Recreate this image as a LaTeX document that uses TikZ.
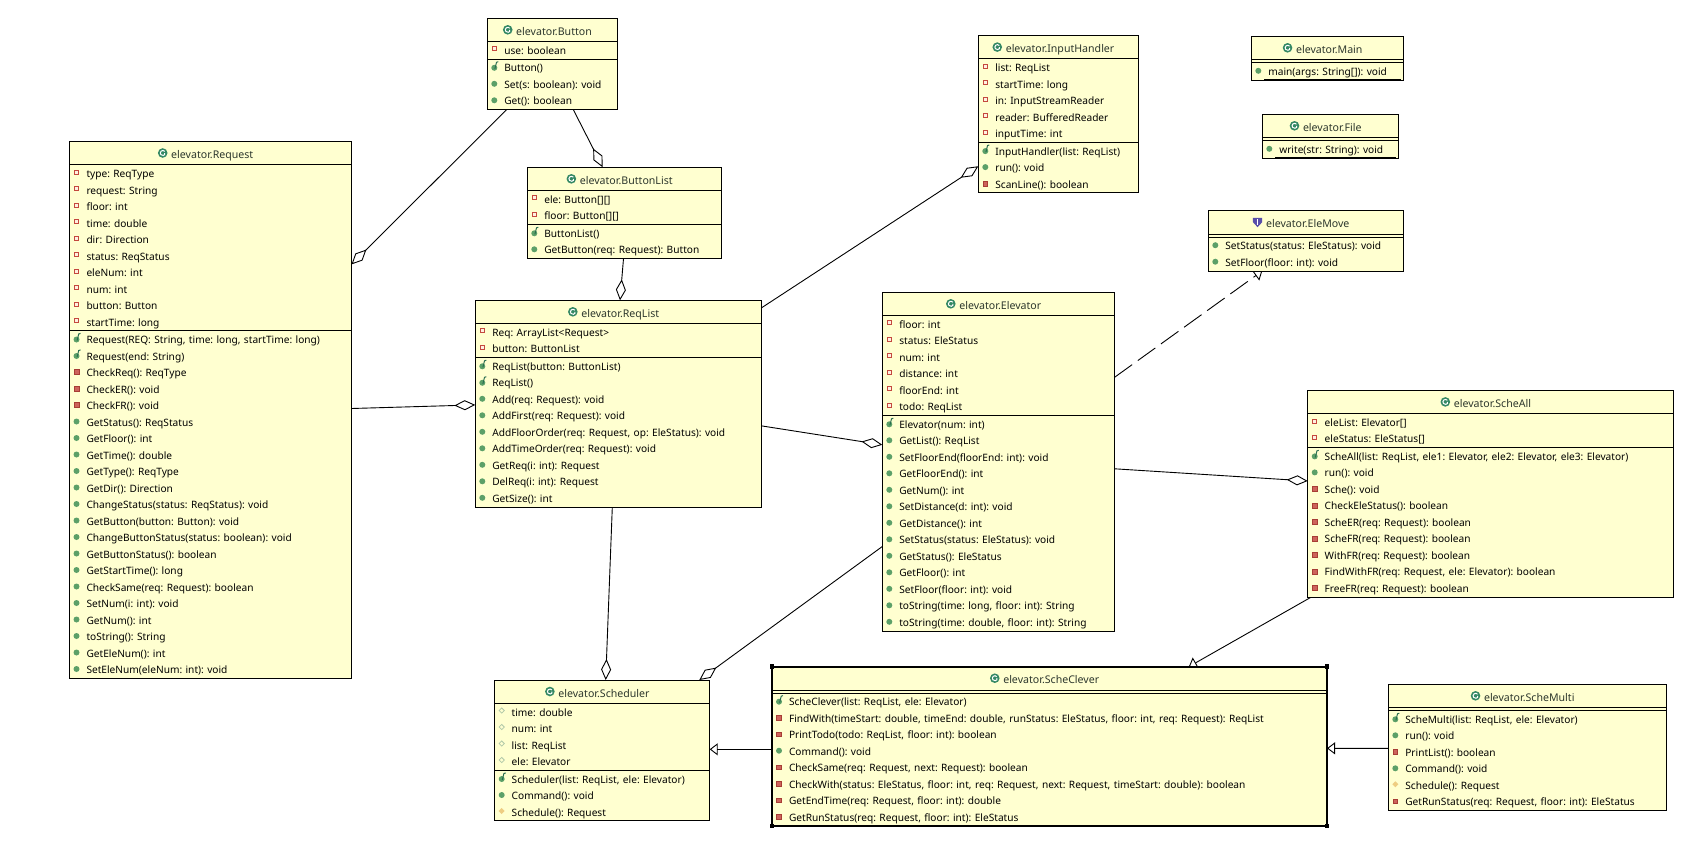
\documentclass[tikz,border=0pt]{standalone}
\usepackage{fontspec}
\setmainfont{Noto Sans}
\usepackage{xcolor}
\usetikzlibrary{arrows.meta, positioning, shapes.multipart, fit, backgrounds}
\definecolor{boxYellow}{RGB}{255, 255, 208}
\definecolor{inkGrey}{RGB}{45, 55, 45}
\definecolor{privRed}{RGB}{196, 72, 62}
\definecolor{pubGreen}{RGB}{92, 160, 104}
\definecolor{classGreen}{RGB}{52, 136, 100}
\definecolor{ifacePurple}{RGB}{88, 78, 170}
\definecolor{protGold}{RGB}{238, 205, 130}
\definecolor{pkgPale}{RGB}{176, 200, 168}

% row icons
\newsavebox\attricon \newsavebox\privicon \newsavebox\pubicon \newsavebox\ctoricon
\newsavebox\pkgicon \newsavebox\proticon \newsavebox\classicon \newsavebox\ifaceicon
\newcommand\iconbounds{\useasboundingbox (-4pt,-4pt) rectangle (4pt,4pt);}
\sbox\attricon{\tikz[baseline=-5.5pt]{\iconbounds
  \draw[privRed, fill=orange!12, line width=.8pt] (-2pt,-2pt) rectangle (2pt,2pt);}}
\sbox\privicon{\tikz[baseline=-4.5pt]{\iconbounds
  \draw[privRed!85!black, fill=privRed!85, line width=.5pt] (-2.4pt,-2.4pt) rectangle (2.4pt,2.4pt);}}
\sbox\pubicon{\tikz[baseline=-4.5pt]{\iconbounds
  \fill[pubGreen] (0,0) circle (3pt);}}
\sbox\ctoricon{\tikz[baseline=-4.5pt]{\iconbounds
  \fill[pubGreen] (0,-.5pt) circle (3pt);
  \draw[classGreen!80!black, line width=1pt] (.6pt,-1.5pt) -- (2.2pt,5pt) -- (4pt,5.6pt);}}
\sbox\pkgicon{\tikz[baseline=-5.5pt]{\iconbounds
  \draw[pkgPale, line width=.8pt] (-2.6pt,0) -- (0,2.6pt) -- (2.6pt,0) -- (0,-2.6pt) -- cycle;}}
\sbox\proticon{\tikz[baseline=-5pt]{\iconbounds
  \fill[protGold] (-3pt,0) -- (0,3pt) -- (3pt,0) -- (0,-3pt) -- cycle;}}
\sbox\classicon{\tikz[baseline=-5.6pt]{\useasboundingbox (-5pt,-5pt) rectangle (5pt,5pt);
  \fill[classGreen] (0,0) circle (4.8pt);
  \draw[white, line width=1pt] (2pt,1.6pt) arc (40:320:2.5pt) -- (2pt,0);}}
\sbox\ifaceicon{\tikz[baseline=-5.6pt]{\useasboundingbox (-5pt,-5pt) rectangle (5pt,5pt);
  \fill[ifacePurple] (-4.6pt,4.4pt) -- (4.6pt,4.4pt) -- (4.6pt,0) -- (0,-5pt) -- (-4.6pt,0) -- cycle;
  \draw[white, line width=1.3pt] (0,3pt) -- (0,-2.4pt);}}

\newcommand\rowfont{\fontsize{10.15pt}{16.5pt}\selectfont\frenchspacing}
\newcommand\rowstrut{\rule[-4.3pt]{0pt}{16.5pt}}
\newcommand\headstrut{\rule[-5.7pt]{0pt}{22.3pt}}
\newcommand\headfont{\fontsize{10.6pt}{16.5pt}\selectfont}
\newcommand\nofields{\rule{0pt}{2pt}}
\newcommand\fieldpart{\nodepart{two}}
\newcommand\methodpart{\par\vspace{-1pt}\nodepart{three}}
\newcommand\rowwith[2]{\rowstrut\mbox{\makebox[14pt][l]{\usebox#1}#2}}
\newcommand\rowAttr[1]{\rowwith\attricon{#1}}
\newcommand\rowPkg[1]{\rowwith\pkgicon{#1}}
\newcommand\rowCtor[1]{\rowwith\ctoricon{#1}}
\newcommand\rowPub[1]{\rowwith\pubicon{#1}}
\newcommand\rowPriv[1]{\rowwith\privicon{#1}}
\newcommand\rowProt[1]{\rowwith\proticon{#1}}
\newcommand\rowStatic[1]{\rowstrut\makebox[10pt][l]{\usebox\pubicon}\underline{\makebox[\dimexpr\linewidth-10pt][l]{\hspace{4pt}#1}}}
\newcommand\classhead[1]{\headstrut\makebox[\linewidth][c]{\usebox\classicon\hspace{3.5pt}{\headfont#1}\hspace{10pt}}}
\newcommand\ifacehead[1]{\headstrut\makebox[\linewidth][c]{\usebox\ifaceicon\hspace{3.5pt}{\headfont#1}\hspace{10pt}}}

\begin{document}
\begin{tikzpicture}[
    x=1pt, y=-1pt,
    classbox/.style={
      rectangle split, rectangle split parts=3, draw=black, fill=boxYellow,
      line width=1pt, inner xsep=3pt, inner ysep=0pt, outer sep=0pt,
      text width=#1, align=left, font=\rowfont, text=inkGrey
    },
    selframe/.style={rectangle, draw=black, line width=2.4pt, inner sep=0pt, outer sep=0pt},
    selhandle/.style={rectangle, fill=black, minimum size=4.6pt, inner sep=0pt},
    aggr/.style={-{Diamond[open, length=21pt, width=10pt]}, line width=.9pt},
    inherit/.style={-{Triangle[open, length=8pt, width=12pt]}, line width=.9pt},
    realize/.style={inherit, dash pattern=on 21.5pt off 7pt}
  ]
    \useasboundingbox (0,0) rectangle (1691,849);

    % Left column
    \node[classbox=276pt, anchor=north west] (request) at (69.5,141.5) {\classhead{elevator.Request}
      \fieldpart
      \rowAttr{type: ReqType}\\
      \rowAttr{request: String}\\
      \rowAttr{floor: int}\\
      \rowAttr{time: double}\\
      \rowAttr{dir: Direction}\\
      \rowAttr{status: ReqStatus}\\
      \rowAttr{eleNum: int}\\
      \rowAttr{num: int}\\
      \rowAttr{button: Button}\\
      \rowAttr{startTime: long}
      \methodpart
      \rowCtor{Request(REQ: String, time: long, startTime: long)}\\
      \rowCtor{Request(end: String)}\\
      \rowPriv{CheckReq(): ReqType}\\
      \rowPriv{CheckER(): void}\\
      \rowPriv{CheckFR(): void}\\
      \rowPub{GetStatus(): ReqStatus}\\
      \rowPub{GetFloor(): int}\\
      \rowPub{GetTime(): double}\\
      \rowPub{GetType(): ReqType}\\
      \rowPub{GetDir(): Direction}\\
      \rowPub{ChangeStatus(status: ReqStatus): void}\\
      \rowPub{GetButton(button: Button): void}\\
      \rowPub{ChangeButtonStatus(status: boolean): void}\\
      \rowPub{GetButtonStatus(): boolean}\\
      \rowPub{GetStartTime(): long}\\
      \rowPub{CheckSame(req: Request): boolean}\\
      \rowPub{SetNum(i: int): void}\\
      \rowPub{GetNum(): int}\\
      \rowPub{toString(): String}\\
      \rowPub{GetEleNum(): int}\\
      \rowPub{SetEleNum(eleNum: int): void}};

    % Button classes
    \node[classbox=124pt, below right=-123.2pt and 417.8pt of request.north west] (button) {\classhead{elevator.Button}
      \fieldpart
      \rowAttr{use: boolean}
      \methodpart
      \rowCtor{Button()}\\
      \rowPub{Set(s: boolean): void}\\
      \rowPub{Get(): boolean}};
    \node[classbox=188.4pt, below right=149pt and 40pt of button.north west] (buttonlist) {\classhead{elevator.ButtonList}
      \fieldpart
      \rowAttr{ele: Button[][]}\\
      \rowAttr{floor: Button[][]}
      \methodpart
      \rowCtor{ButtonList()}\\
      \rowPub{GetButton(req: Request): Button}};

    % Centre
    \node[classbox=280.4pt, below right=133pt and -52pt of buttonlist.north west] (reqlist) {\classhead{elevator.ReqList}
      \fieldpart
      \rowAttr{Req: ArrayList<Request>}\\
      \rowAttr{button: ButtonList}
      \methodpart
      \rowCtor{ReqList(button: ButtonList)}\\
      \rowCtor{ReqList()}\\
      \rowPub{Add(req: Request): void}\\
      \rowPub{AddFirst(req: Request): void}\\
      \rowPub{AddFloorOrder(req: Request, op: EleStatus): void}\\
      \rowPub{AddTimeOrder(req: Request): void}\\
      \rowPub{GetReq(i: int): Request}\\
      \rowPub{DelReq(i: int): Request}\\
      \rowPub{GetSize(): int}};
    \node[classbox=154pt, below right=-264.7pt and 503pt of reqlist.north west] (inputhandler) {\classhead{elevator.InputHandler}
      \fieldpart
      \rowAttr{list: ReqList}\\
      \rowAttr{startTime: long}\\
      \rowAttr{in: InputStreamReader}\\
      \rowAttr{reader: BufferedReader}\\
      \rowAttr{inputTime: int}
      \methodpart
      \rowCtor{InputHandler(list: ReqList)}\\
      \rowPub{run(): void}\\
      \rowPriv{ScanLine(): boolean}};
    \node[classbox=226.4pt, below right=-8pt and 407pt of reqlist.north west] (elevator) {\classhead{elevator.Elevator}
      \fieldpart
      \rowAttr{floor: int}\\
      \rowAttr{status: EleStatus}\\
      \rowAttr{num: int}\\
      \rowAttr{distance: int}\\
      \rowAttr{floorEnd: int}\\
      \rowAttr{todo: ReqList}
      \methodpart
      \rowCtor{Elevator(num: int)}\\
      \rowPub{GetList(): ReqList}\\
      \rowPub{SetFloorEnd(floorEnd: int): void}\\
      \rowPub{GetFloorEnd(): int}\\
      \rowPub{GetNum(): int}\\
      \rowPub{SetDistance(d: int): void}\\
      \rowPub{GetDistance(): int}\\
      \rowPub{SetStatus(status: EleStatus): void}\\
      \rowPub{GetStatus(): EleStatus}\\
      \rowPub{GetFloor(): int}\\
      \rowPub{SetFloor(floor: int): void}\\
      \rowPub{toString(time: long, floor: int): String}\\
      \rowPub{toString(time: double, floor: int): String}};

    % Top right
    \node[classbox=146.4pt, below right=0.7pt and 273pt of inputhandler.north west] (main) {\classhead{elevator.Main}
      \fieldpart\nofields
      \methodpart
      \rowStatic{main(args: String[]): void}};
    \node[classbox=130.4pt, below right=78pt and 11pt of main.north west] (file) {\classhead{elevator.File}
      \fieldpart\nofields
      \methodpart
      \rowStatic{write(str: String): void}};
    \node[classbox=189.4pt, below right=96.4pt and -54pt of file.north west] (elemove) {\ifacehead{elevator.EleMove}
      \fieldpart\nofields
      \methodpart
      \rowPub{SetStatus(status: EleStatus): void}\\
      \rowPub{SetFloor(floor: int): void}};
    \node[classbox=360pt, below right=98.1pt and 425.4pt of elevator.north west] (scheall) {\classhead{elevator.ScheAll}
      \fieldpart
      \rowAttr{eleList: Elevator[]}\\
      \rowAttr{eleStatus: EleStatus[]}
      \methodpart
      \rowCtor{ScheAll(list: ReqList, ele1: Elevator, ele2: Elevator, ele3: Elevator)}\\
      \rowPub{run(): void}\\
      \rowPriv{Sche(): void}\\
      \rowPriv{CheckEleStatus(): boolean}\\
      \rowPriv{ScheER(req: Request): boolean}\\
      \rowPriv{ScheFR(req: Request): boolean}\\
      \rowPriv{WithFR(req: Request): boolean}\\
      \rowPriv{FindWithFR(req: Request, ele: Elevator): boolean}\\
      \rowPriv{FreeFR(req: Request): boolean}};

    % Bottom row
    \node[classbox=209pt, below right=379.7pt and 19.4pt of reqlist.north west] (scheduler) {\classhead{elevator.Scheduler}
      \fieldpart
      \rowPkg{time: double}\\
      \rowPkg{num: int}\\
      \rowPkg{list: ReqList}\\
      \rowPkg{ele: Elevator}
      \methodpart
      \rowCtor{Scheduler(list: ReqList, ele: Elevator)}\\
      \rowPub{Command(): void}\\
      \rowProt{Schedule(): Request}};
    \node[classbox=549pt, below right=-13.3pt and 277.3pt of scheduler.north west] (scheclever) {\classhead{elevator.ScheClever}
      \fieldpart\nofields
      \methodpart
      \rowCtor{ScheClever(list: ReqList, ele: Elevator)}\\
      \rowPriv{FindWith(timeStart: double, timeEnd: double, runStatus: EleStatus, floor: int, req: Request): ReqList}\\
      \rowPriv{PrintTodo(todo: ReqList, floor: int): boolean}\\
      \rowPub{Command(): void}\\
      \rowPriv{CheckSame(req: Request, next: Request): boolean}\\
      \rowPriv{CheckWith(status: EleStatus, floor: int, req: Request, next: Request, timeStart: double): boolean}\\
      \rowPriv{GetEndTime(req: Request, floor: int): double}\\
      \rowPriv{GetRunStatus(req: Request, floor: int): EleStatus}};
    \node[classbox=272.4pt, below right=17.6pt and 616.3pt of scheclever.north west] (schemulti) {\classhead{elevator.ScheMulti}
      \fieldpart\nofields
      \methodpart
      \rowCtor{ScheMulti(list: ReqList, ele: Elevator)}\\
      \rowPub{run(): void}\\
      \rowPriv{PrintList(): boolean}\\
      \rowPub{Command(): void}\\
      \rowProt{Schedule(): Request}\\
      \rowPriv{GetRunStatus(req: Request, floor: int): EleStatus}};

    % Selected class
    \node[selframe, fit=(scheclever)] (selclever) {};
    \foreach \corner/\tag in {north west/a, north east/b, south west/c, south east/d}
      \node[selhandle] (handle\tag) at (selclever.\corner) {};

    % Connectors
    \begin{scope}[on background layer]
      \draw[aggr] ([xshift=-45.6pt]button.south) -- ([yshift=145.5pt]request.east);
      \draw[aggr] ([xshift=21pt]button.south) -- ([xshift=-21.8pt]buttonlist.north);
      \draw[aggr] ([xshift=-1pt]buttonlist.south) -- ([xshift=1.5pt]reqlist.north);
      \draw[aggr] ([yshift=-7.4pt]reqlist.north east) -- ([yshift=-52pt]inputhandler.west);
      \draw[aggr] ([yshift=1.4pt]request.east) -- ([yshift=-1.2pt]reqlist.west);
      \draw[aggr] ([yshift=-22.2pt]reqlist.east) -- ([yshift=16.9pt]elevator.west);
      \draw[aggr] ([yshift=-7.1pt]elevator.east) -- ([yshift=12.8pt]scheall.west);
      \draw[aggr] ([xshift=-6.2pt]reqlist.south) -- ([xshift=3.5pt]scheduler.north);
      \draw[aggr] ([yshift=-84.8pt]elevator.west) -- ([xshift=-10.4pt]scheduler.north east);
      \draw[realize] ([yshift=84.5pt]elevator.east) -- ([xshift=-43.8pt]elemove.south);
      \draw[inherit] ([xshift=3.3pt]scheall.south west) -- ([xshift=139.3pt]scheclever.north);
      \draw[inherit] ([yshift=-2.95pt]scheclever.west) -- ([yshift=1.1pt]scheduler.east);
      \draw[inherit] ([yshift=-.85pt]schemulti.west) -- ([yshift=-1.95pt]scheclever.east);
    \end{scope}
  \end{tikzpicture}
\end{document}
